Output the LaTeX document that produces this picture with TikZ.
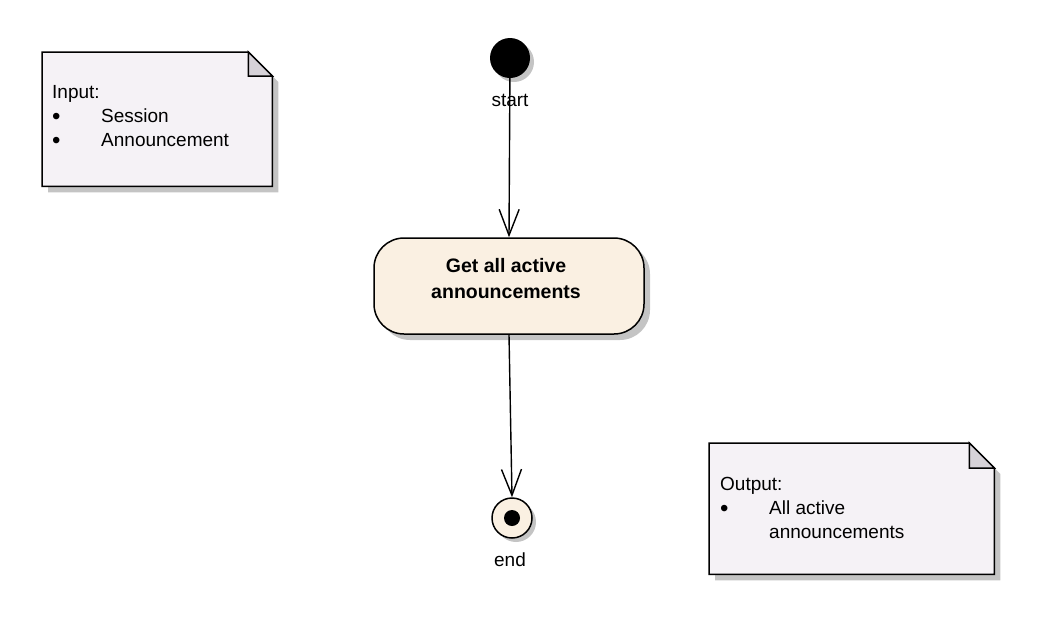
\documentclass[tikz,border=0pt]{standalone}
\usepackage{fontspec}
\setmainfont{Liberation Sans}
\usepackage{xcolor}
\usepackage{tikz}
\usetikzlibrary{positioning,arrows.meta,shadows}

\definecolor{notefill}{HTML}{F5F2F6}
\definecolor{foldfill}{HTML}{D6D2D8}
\definecolor{actfill}{HTML}{FAF0E2}
\definecolor{shadegray}{HTML}{C4C4C4}

\newcommand{\bigbul}{\makebox[49pt][l]{\raisebox{-2.5pt}{\fontsize{24}{24}\selectfont\textbullet}}}

\begin{document}
\begin{tikzpicture}[
    x=1pt, y=-1pt,
    txt/.style={font=\fontsize{19}{24}\selectfont},
    activity/.style={draw, line width=1.5pt, rounded corners=30pt, fill=actfill,
                     minimum width=270pt, minimum height=96pt,
                     drop shadow={shadow xshift=6pt, shadow yshift=-6pt, fill=shadegray, opacity=1}},
    acttext/.style={align=center, font=\fontsize{19.5}{26}\selectfont\bfseries},
    initial/.style={circle, fill=black, minimum size=40pt, inner sep=0pt,
                    drop shadow={shadow xshift=4pt, shadow yshift=-4pt, fill=shadegray, opacity=1}},
    final/.style={circle, draw, line width=1.5pt, fill=actfill, minimum size=40pt, inner sep=0pt,
                  drop shadow={shadow xshift=4pt, shadow yshift=-4pt, fill=shadegray, opacity=1}},
    notebox/.style={inner sep=0pt, anchor=north west},
    notetext/.style={txt, align=left, inner sep=0pt, anchor=west},
    flow/.style={line width=1.4pt, -{Straight Barb[length=26pt, width=20pt, line width=1.4pt]}}
]
\useasboundingbox (0,0) rectangle (1038,635);

% start and end
\node[initial] (start) at (510,58) {};
\node[txt] (startLbl) at (510,100) {start};
\node[final] (end) at (512,518) {};
\node[circle, fill=black, minimum size=16pt, inner sep=0pt] (endDot) at (end) {};
\node[txt] (endLbl) at (510,560) {end};

% activity
\node[activity] (getAll) at (509,286) {};
\node[acttext] (getAllTxt) at ([shift={(-3,-7)}]getAll.center) {Get all active\\announcements};

\draw[flow] (start) -- (getAll.north);
\draw[flow] (getAll.south) -- (end.north);

% input note
\node[notebox, minimum width=230pt, minimum height=134pt] (inNote) at (42,52) {};
\fill[shadegray] ([shift={(6,6)}]inNote.north west) -- ([shift={(-18,6)}]inNote.north east)
  -- ([shift={(6,30)}]inNote.north east) -- ([shift={(6,6)}]inNote.south east)
  -- ([shift={(6,6)}]inNote.south west) -- cycle;
\draw[line width=1.5pt, fill=notefill] (inNote.north west) -- ([shift={(-24,0)}]inNote.north east)
  -- ([shift={(0,24)}]inNote.north east) -- (inNote.south east) -- (inNote.south west) -- cycle;
\draw[line width=1.5pt, fill=foldfill] ([shift={(-24,0)}]inNote.north east)
  -- ([shift={(-24,24)}]inNote.north east) -- ([shift={(0,24)}]inNote.north east) -- cycle;
\node[notetext] (inText) at ([shift={(10,-2)}]inNote.west)
  {Input:\\\bigbul Session\\\bigbul Announcement};

% output note
\node[notebox, minimum width=285pt, minimum height=131pt] (outNote) at (709,443) {};
\fill[shadegray] ([shift={(6,6)}]outNote.north west) -- ([shift={(-19,6)}]outNote.north east)
  -- ([shift={(6,31)}]outNote.north east) -- ([shift={(6,6)}]outNote.south east)
  -- ([shift={(6,6)}]outNote.south west) -- cycle;
\draw[line width=1.5pt, fill=notefill] (outNote.north west) -- ([shift={(-25,0)}]outNote.north east)
  -- ([shift={(0,25)}]outNote.north east) -- (outNote.south east) -- (outNote.south west) -- cycle;
\draw[line width=1.5pt, fill=foldfill] ([shift={(-25,0)}]outNote.north east)
  -- ([shift={(-25,25)}]outNote.north east) -- ([shift={(0,25)}]outNote.north east) -- cycle;
\node[notetext] (outText) at ([shift={(11,-1)}]outNote.west)
  {Output:\\\bigbul All active\\\hspace*{49pt}announcements};
\end{tikzpicture}
\end{document}
